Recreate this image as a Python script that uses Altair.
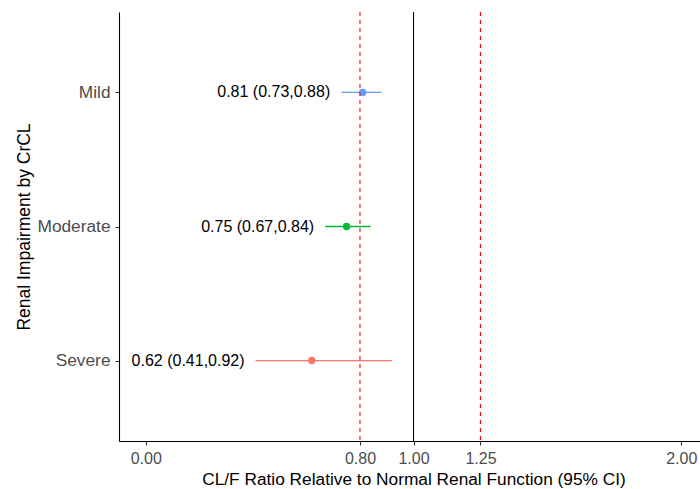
import altair as alt
import pandas as pd

groups = ["Mild", "Moderate", "Severe"]
ratio = [0.81, 0.75, 0.62]
lower = [0.73, 0.67, 0.41]
upper = [0.88, 0.84, 0.92]
colors = ["#619CFF", "#00BA38", "#F8766D"]
ref_values = [0.80, 1.00, 1.25]
ref_kind = ["limit", "unity", "limit"]
x_ticks = [0.0, 0.8, 1.0, 1.25, 2.0]

labels = [f"{r:.2f} ({l:.2f},{u:.2f})" for r, l, u in zip(ratio, lower, upper)]
df = pd.DataFrame({"group": groups, "ratio": ratio, "lower": lower,
                   "upper": upper, "label": labels})
refs = pd.DataFrame({"value": ref_values, "kind": ref_kind})

FONT = "Liberation Sans"

x_scale = alt.Scale(domain=[-0.1, 2.07], nice=False, zero=False)
y_enc = alt.Y("group:N", sort=groups,
              scale=alt.Scale(type="point", padding=0.6),
              axis=alt.Axis(title="Renal Impairment by CrCL",
                            titleX=-90, titleY=214.5, titleAngle=270,
                            titleAlign="center", titleBaseline="alphabetic",
                            titleFontSize=17.5, titleFontWeight="normal",
                            titleColor="#000000",
                            labelFontSize=17.3, labelColor="#4D4D4D",
                            labelPadding=5, tickSize=4))
color_enc = alt.Color("group:N", scale=alt.Scale(domain=groups, range=colors),
                      legend=None)

base = alt.Chart(df)

ci = base.mark_rule(strokeWidth=1.3).encode(
    x=alt.X("lower:Q", scale=x_scale,
            axis=alt.Axis(title="CL/F Ratio Relative to Normal Renal Function (95% CI)",
                          values=x_ticks, format=".2f",
                          titleX=294.5, titleY=43, titleAlign="center",
                          titleBaseline="alphabetic", titleFontSize=17.3,
                          titleFontWeight="normal", titleColor="#000000",
                          labelFontSize=16, labelColor="#4D4D4D",
                          labelBaseline="alphabetic", labelPadding=18,
                          tickSize=4, labelFlush=False)),
    x2="upper:Q",
    y=y_enc,
    color=color_enc,
)

pts = base.mark_circle(size=55, opacity=1).encode(
    x=alt.X("ratio:Q", scale=x_scale),
    y=alt.Y("group:N", sort=groups),
    color=color_enc,
)

txt = base.mark_text(align="right", baseline="middle", dx=-11,
                     fontSize=16, color="#000000", font=FONT).encode(
    x=alt.X("lower:Q", scale=x_scale),
    y=alt.Y("group:N", sort=groups),
    text="label:N",
)

ref_limit = alt.Chart(refs).transform_filter(alt.datum.kind == "limit").mark_rule(
    color="#FF0000", strokeDash=[4, 4], strokeWidth=1.1).encode(
    x=alt.X("value:Q", scale=x_scale))
ref_unity = alt.Chart(refs).transform_filter(alt.datum.kind == "unity").mark_rule(
    color="#000000", strokeWidth=1.1).encode(
    x=alt.X("value:Q", scale=x_scale))

chart = alt.layer(ci, pts, txt, ref_limit, ref_unity).properties(
    width=581, height=429,
    autosize=alt.AutoSizeParams(type="none"),
    padding={"left": 119, "top": 12, "right": 0, "bottom": 48},
    background="white",
).configure_view(stroke=None).configure_axis(
    grid=False, domainColor="#000000", domainWidth=1.1,
    tickColor="#333333", tickWidth=1.1,
    labelFont=FONT, titleFont=FONT,
).configure_text(font=FONT)

chart.save("out.html", embed_options={"renderer": "svg", "actions": False})
